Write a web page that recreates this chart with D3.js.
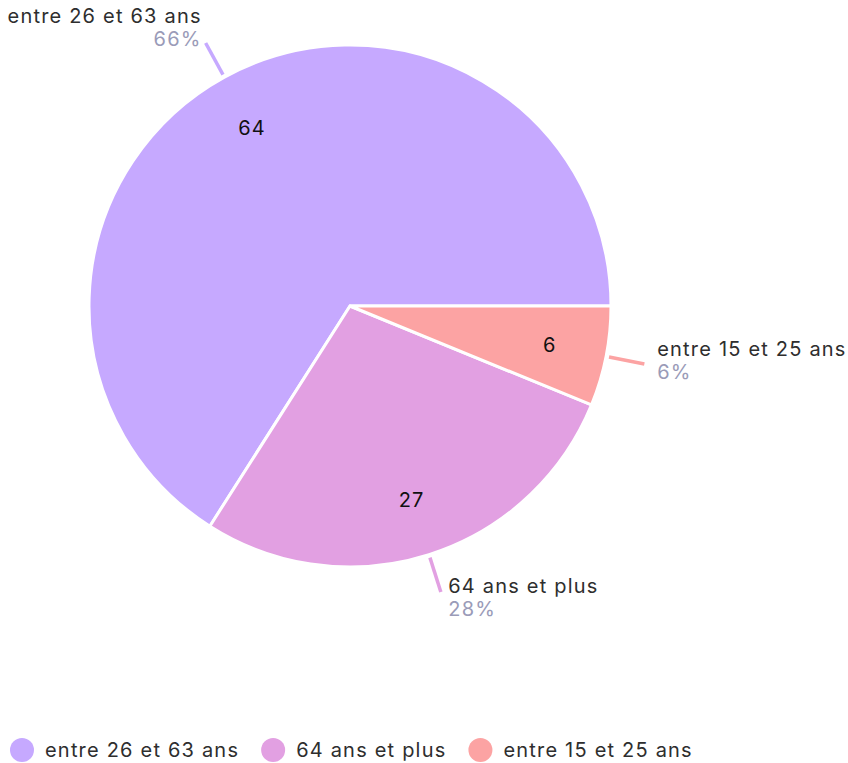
<!DOCTYPE html>
<html>
<head>
<meta charset="utf-8">
<script src="https://cdn.jsdelivr.net/npm/d3@7"></script>
<style>
  body { margin: 0; background: #fff; }
  svg { display: block; font-family: Inter, "Noto Sans", sans-serif; }
  svg text { font-size: 20px; letter-spacing: 1.2px; }
</style>
</head>
<body>
<div id="chart"></div>
<script>
const categories = ["entre 26 et 63 ans", "64 ans et plus", "entre 15 et 25 ans"];
const values = [64, 27, 6];
const colors = ["#c6a9ff", "#e2a0e2", "#fca3a3"];

const W = 848, H = 763;
const cx = 350, cy = 306, radius = 261;

const svg = d3.select("#chart").append("svg")
  .attr("width", W)
  .attr("height", H);

const data = categories.map((c, i) => ({ name: c, value: values[i], color: colors[i] }));
const total = d3.sum(values);

// sens anti-horaire en partant de 3h
const pie = d3.pie()
  .sort(null)
  .value(d => d.value)
  .startAngle(Math.PI / 2)
  .endAngle(Math.PI / 2 - 2 * Math.PI);

const arcs = pie(data);
const arc = d3.arc().innerRadius(0).outerRadius(radius);
const labelArc = d3.arc().innerRadius(radius * 0.78).outerRadius(radius * 0.78);

const g = svg.append("g").attr("transform", `translate(${cx},${cy})`);

g.selectAll("path.slice")
  .data(arcs)
  .join("path")
  .attr("class", "slice")
  .attr("d", arc)
  .attr("fill", d => d.data.color)
  .attr("stroke", "#fff")
  .attr("stroke-width", 3)
  .attr("stroke-linejoin", "miter");

// valeurs dans les parts
g.selectAll("text.val")
  .data(arcs)
  .join("text")
  .attr("class", "val")
  .attr("transform", d => `translate(${labelArc.centroid(d)})`)
  .attr("text-anchor", "middle")
  .attr("dy", "0.35em")
  .style("fill", "#111")
  .text(d => d.data.value);

// lignes de rappel + étiquettes extérieures
const midAngle = d => (d.startAngle + d.endAngle) / 2;
const pt = (a, r) => [Math.sin(a) * r, -Math.cos(a) * r];

arcs.forEach(d => {
  const a = midAngle(d);
  const p1 = pt(a, radius + 3);
  const p2 = pt(a, radius + 39);
  g.append("line")
    .attr("x1", p1[0]).attr("y1", p1[1])
    .attr("x2", p2[0]).attr("y2", p2[1])
    .attr("stroke", d.data.color)
    .attr("stroke-width", 3.5);

  const right = p2[0] > 0;
  const dir = -Math.cos(a);
  const tx = p2[0] + (right ? 5 + 8 * Math.abs(Math.sin(a)) : -4);
  const ty = p2[1] - 10 + dir * 12;
  const t = g.append("text")
    .attr("text-anchor", right ? "start" : "end");
  t.append("tspan")
    .attr("x", tx).attr("y", ty)
    .style("fill", "#2e2e2e")
    .text(d.data.name);
  t.append("tspan")
    .attr("x", tx).attr("y", ty + 23)
    .style("fill", "#9a9bb8")
    .text(d3.format(".0%")(d.data.value / total));
});

// légende
const legend = svg.append("g").attr("transform", "translate(0,750)");
let x = 10;
data.forEach(d => {
  const item = legend.append("g").attr("transform", `translate(${x},0)`);
  item.append("circle")
    .attr("cx", 12).attr("cy", 0).attr("r", 12)
    .attr("fill", d.color);
  const label = item.append("text")
    .attr("x", 35).attr("dy", "0.35em")
    .style("fill", "#2e2e2e")
    .text(d.name);
  x += 35 + label.node().getComputedTextLength() + 22;
});
</script>
</body>
</html>
